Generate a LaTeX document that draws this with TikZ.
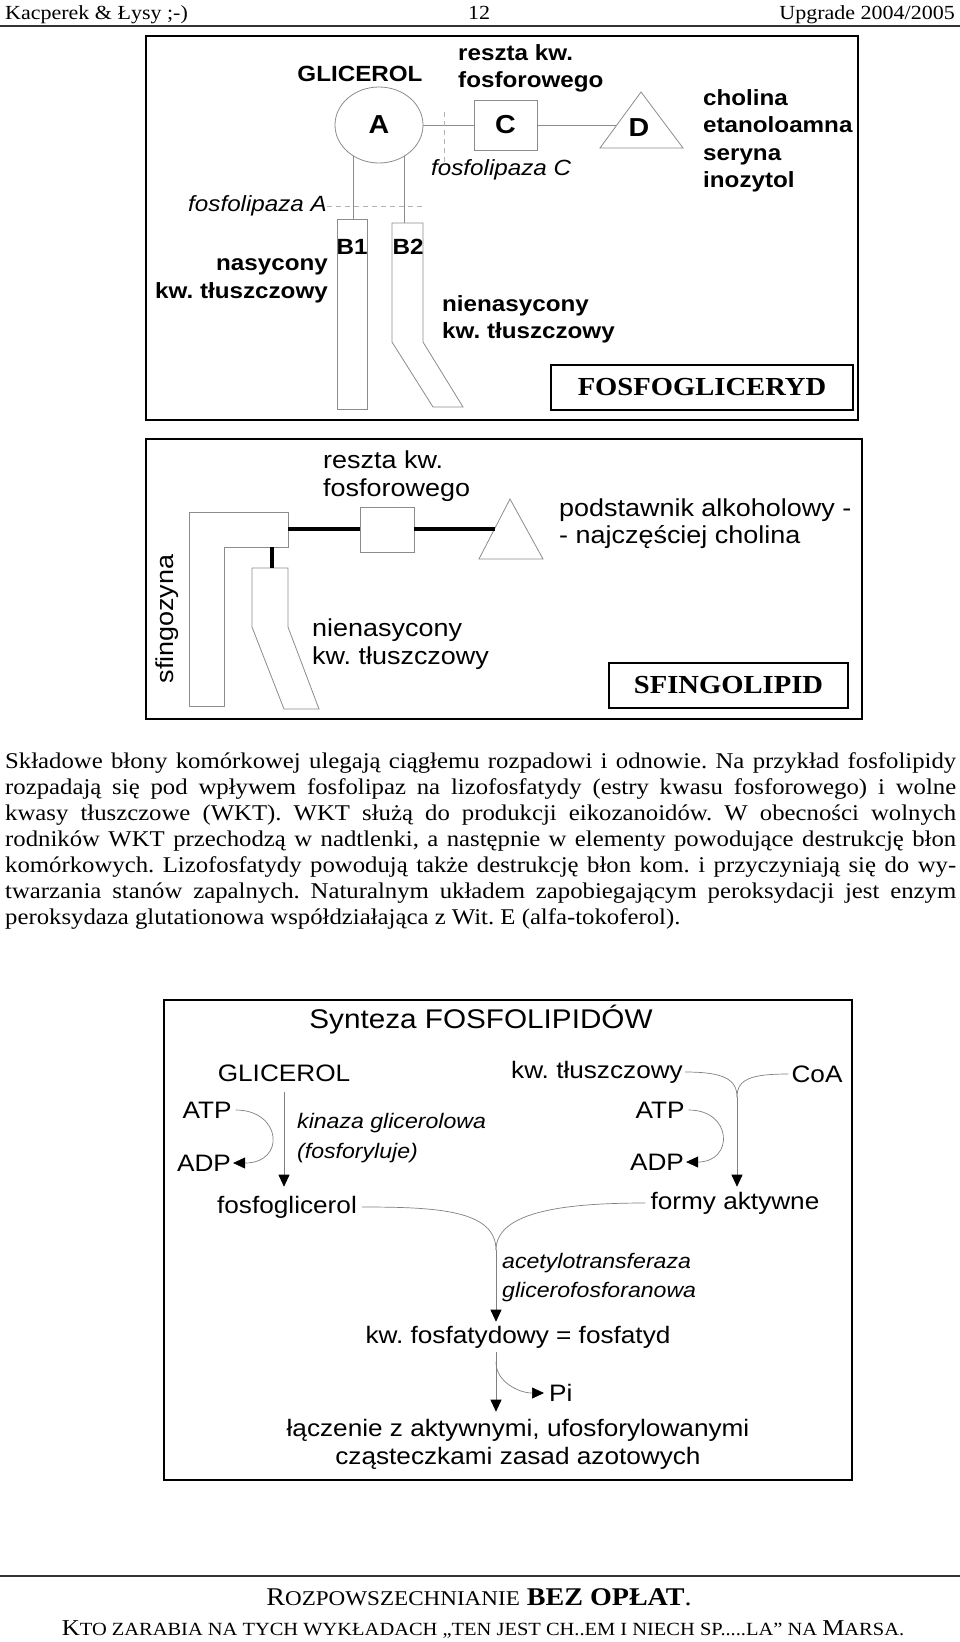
\documentclass[tikz,border=0pt]{standalone}
\usepackage{fontspec}
\usepackage{graphicx}
\setmainfont{Liberation Serif}[FakeStretch=1.1]
\setsansfont{Liberation Sans}[FakeStretch=1.1]
\usetikzlibrary{arrows.meta,shapes.geometric}
\newcommand{\fsz}[2]{\fontsize{#1}{#2}\selectfont}
\newcommand{\smcap}[2]{{\fsz{#1}{22}#2}}
\frenchspacing

\begin{document}
\begin{tikzpicture}[x=1pt,y=-1pt,
  every node/.style={inner sep=0pt},
  hdrtxt/.style={font={\rmfamily\fsz{20}{24}}},
  bodytxt/.style={font={\rmfamily\fsz{22.5}{26}},anchor=base west},
  outerbox/.style={line width=1.5pt},
  titlebox/.style={draw,line width=1.5pt,font={\rmfamily\bfseries\fsz{26}{30}}},
  boldlab/.style={font={\sffamily\bfseries\fsz{22}{27.5}}},
  bigletter/.style={font={\sffamily\bfseries\fsz{26}{30}}},
  enzlab/.style={font={\sffamily\itshape\fsz{22}{26}}},
  plainlab/.style={font={\sffamily\fsz{24.5}{27.5}}},
  synlab/.style={font={\sffamily\fsz{23.8}{28}}},
  synenz/.style={font={\sffamily\itshape\fsz{21}{29.5}}},
  mol/.style={draw=black!45,line width=0.8pt},
  cutline/.style={draw=black!30,line width=0.8pt,dash pattern=on 5pt off 4pt},
  bondline/.style={line width=3.5pt},
  flow/.style={draw=black!50,line width=0.7pt},
  arrowhd/.style={-{Triangle[length=12pt,width=11pt,color=black]}}]
\useasboundingbox (0,0) rectangle (960,1642);
\fill[white] (0,0) rectangle (960,1642);

% naglowek strony
\node[hdrtxt,anchor=base west] (hl) at (5,19) {Kacperek \& Łysy ;-)};
\node[hdrtxt,anchor=base] (hc) at (479,19) {12};
\node[hdrtxt,anchor=base east] (hr) at (955,19) {Upgrade 2004/2005};
\draw[line width=1.2pt,black!80] (0,26) -- (960,26);

% fosfoglicerydy
\draw[outerbox] (146,36) rectangle (858,420);
\node[boldlab] (glic) at (360,74) {GLICEROL};
\node[boldlab,anchor=west,align=left] (resz) at (458,68.5) {reszta kw.\\fosforowego};
\node[ellipse,mol,minimum width=88pt,minimum height=76pt,bigletter] (gA) at (379,125) {A};
\node[mol,minimum width=63pt,minimum height=50pt,bigletter] (sqC) at (505.5,125) {C};
\draw[mol] (641,92) -- (683,148) -- (600,148) -- cycle;
\coordinate (dl) at (617,125);
\node[bigletter] (tD) at (639,128) {D};
\draw[mol] (gA.east) -- (sqC.west);
\draw[mol] (sqC.east) -- (dl);
\draw[cutline] (444,112) -- (444,163);
\node[enzlab,anchor=west] (fC) at (431,170) {fosfolipaza C};
\node[boldlab,anchor=west,align=left] (alk) at (703,141) {cholina\\etanoloamna\\seryna\\inozytol};
\node[mol,minimum width=30pt,minimum height=190pt] (b1) at (352,314) {};
\draw[mol] (392,223) -- (423,223) -- (423,342) -- (463,407) -- (433,407) -- (392,342) -- cycle;
\coordinate (b2) at (404,223);
\draw[mol] (gA.230) -- (gA.230 |- b1.north);
\draw[mol] (gA.309) -- (gA.309 |- b2);
\node[enzlab,anchor=east] (fA) at (327,206) {fosfolipaza A};
\draw[cutline] (fA.east) -- (423,206);
\node[boldlab] (b1l) at (352,247) {B1};
\node[boldlab] (b2l) at (408,247) {B2};
\node[boldlab,anchor=east,align=right] (nas) at (328,281) {nasycony\\kw. tłuszczowy};
\node[boldlab,anchor=west,align=left] (nien) at (442,319.5) {nienasycony\\kw. tłuszczowy};
\node[titlebox,minimum width=302pt,minimum height=45pt] (fgl) at (702,387.5) {FOSFOGLICERYD};

% sfingolipidy
\draw[outerbox] (146,439) rectangle (862,719);
\draw[mol] (189,512) -- (288,512) -- (288,547) -- (224,547) -- (224,706) -- (189,706) -- cycle;
\draw[mol] (252,568) -- (288,568) -- (288,627) -- (319,709) -- (284,709) -- (252,627) -- cycle;
\coordinate (sf) at (288,529);
\coordinate (tl2) at (495,529);
\draw[bondline] (272,547) -- (272,568);
\node[mol,minimum width=54pt,minimum height=45pt] (sq2) at (387,530) {};
\draw[mol] (510,499) -- (543,559) -- (479,559) -- cycle;
\draw[bondline] (sf) -- (sq2.west |- sf);
\draw[bondline] (sq2.east |- sf) -- (tl2);
\node[plainlab,anchor=west,align=left] (resz2) at (323,476) {reszta kw.\\fosforowego};
\node[plainlab,rotate=90] (sfg) at (167,619) {sfingozyna};
\node[plainlab,anchor=west,align=left] (nien2) at (312,644) {nienasycony\\kw. tłuszczowy};
\node[plainlab,anchor=west,align=left] (alk2) at (559,523.5) {podstawnik alkoholowy -\\- najczęściej cholina};
\node[titlebox,minimum width=239pt,minimum height=45pt] (sfl) at (728.5,685.5) {SFINGOLIPID};

% tekst
\node[bodytxt] (t1) at (5,768) {\makebox[951pt][s]{Składowe błony komórkowej ulegają ciągłemu rozpadowi i odnowie. Na przykład fosfolipidy}};
\node[bodytxt] (t2) at (5,794) {\makebox[951pt][s]{rozpadają się pod wpływem fosfolipaz na lizofosfatydy (estry kwasu fosforowego) i wolne}};
\node[bodytxt] (t3) at (5,820) {\makebox[951pt][s]{kwasy tłuszczowe (WKT). WKT służą do produkcji eikozanoidów. W obecności wolnych}};
\node[bodytxt] (t4) at (5,846) {\makebox[951pt][s]{rodników WKT przechodzą w nadtlenki, a następnie w elementy powodujące destrukcję błon}};
\node[bodytxt] (t5) at (5,872) {\makebox[951pt][s]{komórkowych. Lizofosfatydy powodują także destrukcję błon kom. i przyczyniają się do wy-}};
\node[bodytxt] (t6) at (5,898) {\makebox[951pt][s]{twarzania stanów zapalnych. Naturalnym układem zapobiegającym peroksydacji jest enzym}};
\node[bodytxt] (t7) at (5,924) {peroksydaza glutationowa współdziałająca z Wit. E (alfa-tokoferol).};

% synteza
\draw[outerbox] (164,1000) rectangle (852,1480);
\node[font={\sffamily\fsz{27}{30}}] (syn) at (481,1020) {Synteza FOSFOLIPIDÓW};
\node[synlab] (gl3) at (284,1073) {GLICEROL};
\node[synlab] (atpL) at (207,1110) {ATP};
\node[synlab] (adpL) at (204,1163) {ADP};
\node[synenz,anchor=west,align=left] (kin) at (297,1138) {kinaza glicerolowa\\(fosforyluje)};
\node[synlab] (fglic) at (287,1207) {fosfoglicerol};
\node[synlab] (kwt) at (597,1072) {kw. tłuszczowy};
\node[synlab] (coa) at (817,1074) {CoA};
\node[synlab] (atpR) at (660,1110) {ATP};
\node[synlab] (adpR) at (657,1162) {ADP};
\node[synlab] (akt) at (735,1203) {formy aktywne};
\node[synenz,anchor=west,align=left] (acet) at (502,1277.5) {acetylotransferaza\\glicerofosforanowa};
\node[synlab] (kwf) at (518,1337) {kw. fosfatydowy = fosfatyd};
\node[synlab,anchor=west] (pi) at (549,1393) {Pi};
\node[synlab,align=center] (lacz) at (518,1444) {łączenie z aktywnymi, ufosforylowanymi\\cząsteczkami zasad azotowych};
\coordinate (mR) at (737,1097);
\coordinate (mC) at (496,1250);
\coordinate (mP) at (496,1362);
\draw[flow,arrowhd,shorten <=10pt,shorten >=9pt] (gl3.south) -- (gl3.south |- fglic.north);
\draw[flow,arrowhd,shorten <=4pt,shorten >=2pt] (atpL.east) .. controls +(50,0) and +(55,0) .. (adpL.east);
\draw[flow,arrowhd,shorten <=4pt,shorten >=2pt] (atpR.east) .. controls +(48,0) and +(50,0) .. (adpR.east);
\draw[flow,shorten <=2pt] (kwt.east) .. controls +(40,0) and +(0,-18) .. (mR);
\draw[flow,shorten <=3pt] (coa.west) .. controls +(-40,0) and +(0,-18) .. (mR);
\draw[flow,arrowhd,shorten >=5pt] (mR) -- (mR |- akt.north);
\draw[flow,shorten <=5pt] (fglic.east) .. controls +(80,0) and +(0,-40) .. (mC);
\draw[flow,shorten <=5pt] (akt.west) .. controls +(-80,0) and +(0,-40) .. (mC);
\draw[flow,arrowhd,shorten >=4pt] (mC) -- (mC |- kwf.north);
\draw[flow,arrowhd,shorten <=4pt,shorten >=7pt] (kwf.south -| mC) -- (lacz.north -| mC);
\draw[flow,arrowhd,shorten >=5pt] (mP) .. controls +(0,20) and +(-30,0) .. (pi.west);

% stopka
\draw[line width=1.2pt,black!80] (0,1576) -- (960,1576);
\node[anchor=base,font={\rmfamily\fsz{25.5}{28}}] (ft1) at (479,1605) {R\smcap{21}{OZPOWSZECHNIANIE} \textbf{BEZ OPŁAT}.};
\node[anchor=base,font={\rmfamily\fsz{22.7}{26}}] (ft2) at (483,1635) {K\smcap{18.6}{TO ZARABIA NA TYCH WYKŁADACH „TEN JEST CH..EM I NIECH SP.....LA” NA }M\smcap{18.6}{ARSA.}};
\end{tikzpicture}
\end{document}
